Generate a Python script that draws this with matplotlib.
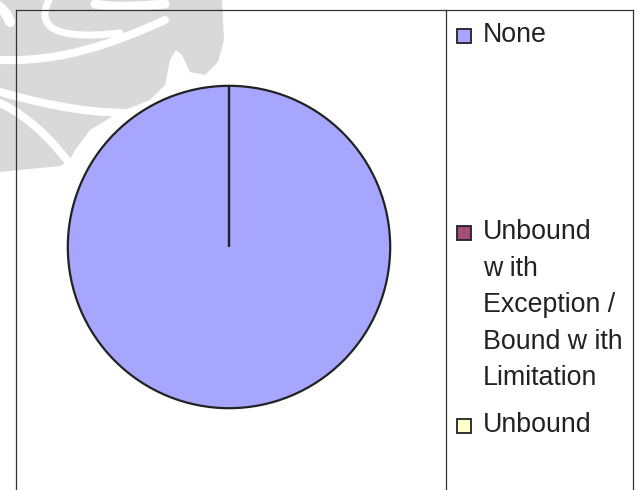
import matplotlib
matplotlib.use('Agg')
import matplotlib.pyplot as plt
from matplotlib.patches import Rectangle, PathPatch, Polygon
from matplotlib.path import Path
from matplotlib.lines import Line2D

# ─── Data ─────────────────────────────────────────────────────────────
labels = ["None",
          "Unbound\nw ith\nException /\nBound w ith\nLimitation",
          "Unbound"]
values = [100, 0, 0]
colors = ['#A6A6FF', '#A64D79', '#FFFFCC']

W, H = 637, 490
fig = plt.figure(figsize=(W / 100, H / 100), dpi=100)
fig.patch.set_facecolor('white')

def px(x, y):
    # pixel coords (y down) -> figure fraction
    return x / W, 1 - y / H

# ─── Watermark (rough): grey mass cut by white swirls ─────────────────
wm = '#D9D9D9'
mass = [(0, 0), (222, 0), (224, 40), (218, 62), (205, 75), (190, 72),
        (182, 55), (176, 50), (170, 60), (165, 85), (150, 100), (120, 112),
        (90, 130), (75, 150), (70, 160), (60, 166), (0, 172)]
fig.patches.append(Polygon([px(x, y) for x, y in mass], closed=True,
                           transform=fig.transFigure, facecolor=wm,
                           edgecolor='none', zorder=-3))
gaps = [
    ([(50, -2), (38, 20), (42, 42), (120, 33)], 7),
    ([(0, 60), (60, 62), (110, 45), (165, 20)], 8),
    ([(0, 92), (50, 106), (100, 116), (150, 112)], 8),
    ([(0, 103), (35, 120), (55, 145), (75, 170)], 8),
    ([(95, 4), (115, 8), (140, 6), (165, 4)], 9),
    ([(-5, 4), (2, 8), (6, 12), (10, 22)], 10),
]
for pts, lw in gaps:
    path = Path([px(x, y) for x, y in pts],
                [Path.MOVETO, Path.CURVE4, Path.CURVE4, Path.CURVE4])
    fig.patches.append(PathPatch(path, transform=fig.transFigure, fill=False,
                                 edgecolor='white', lw=lw * 0.72,
                                 capstyle='round', zorder=-2))

# ─── Frame ────────────────────────────────────────────────────────────
frame_c = '#333333'
x0, y0 = px(16, 10)
x1, _ = px(633, 10)
xd, _ = px(446, 10)
for xs, ys in [([x0, x1], [y0, y0]), ([x0, x0], [0, y0]),
               ([x1, x1], [0, y0]), ([xd, xd], [0, y0])]:
    fig.lines.append(Line2D(xs, ys, transform=fig.transFigure,
                            color=frame_c, lw=0.9, zorder=-1))

# ─── Pie ──────────────────────────────────────────────────────────────
l, t = px(67, 85)
r, b = px(391, 409)
ax = fig.add_axes([l, b, r - l, t - b])
ax.pie(values, colors=colors, startangle=90, counterclock=False,
       wedgeprops=dict(edgecolor='#222222', linewidth=1.6))
ax.set_xlim(-1.005, 1.005)
ax.set_ylim(-1.005, 1.005)
ax.set_aspect('equal')
ax.axis('off')

# ─── Legend (manual, Excel-like spacing) ──────────────────────────────
cap_tops = [27, 224, 417]
for lab, col, ycap in zip(labels, colors, cap_tops):
    sx, sy = px(457, ycap + 16)
    fig.patches.append(Rectangle((sx, sy), 14 / W, 14 / H, transform=fig.transFigure,
                                 facecolor=col, edgecolor='#222222', lw=1.3, zorder=3))
    tx, ty = px(483, ycap - 5)
    fig.text(tx, ty, lab, ha='left', va='top', fontsize=19.3,
             family='Liberation Sans', color='#222222', linespacing=1.53)

fig.savefig('out.png', dpi=100, facecolor='white')
